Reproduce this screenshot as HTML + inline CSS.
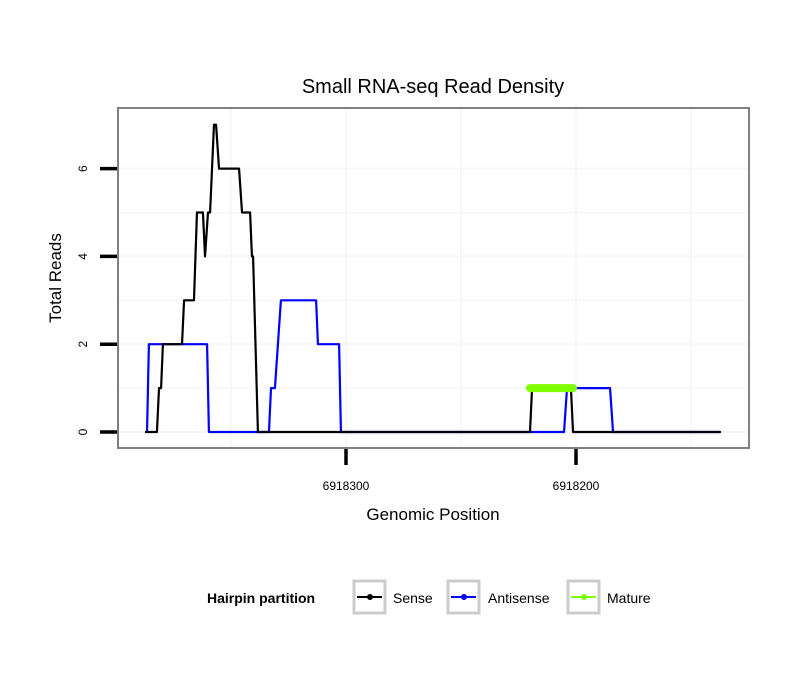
<!DOCTYPE html>
<html><head><meta charset="utf-8"><style>
body{margin:0;background:#fff;}
svg{display:block;font-family:"Liberation Sans",sans-serif;}
</style></head><body>
<svg id="chart" width="810" height="690">
<text x="433" y="93" font-size="20" text-anchor="middle">Small RNA-seq Read Density</text>
<g id="grid"></g>
<g id="series"></g>
<rect x="118" y="108" width="631" height="340" fill="none" stroke="#808080" stroke-width="2"/>
<g id="axes"></g>
<text x="433" y="520" font-size="17" text-anchor="middle">Genomic Position</text>
<text transform="translate(61,278) rotate(-90)" font-size="17" text-anchor="middle">Total Reads</text>
<g>
<text x="207" y="603" font-size="14" font-weight="bold">Hairpin partition</text>
<g>
<rect x="354" y="581" width="31" height="32" fill="#fff" stroke="#cccccc" stroke-width="3"/>
<line x1="357" y1="597" x2="382" y2="597" stroke="#000" stroke-width="2"/><circle cx="370" cy="597" r="3" fill="#000"/>
<text x="393" y="603" font-size="14">Sense</text></g>
<g>
<rect x="448" y="581" width="31" height="32" fill="#fff" stroke="#cccccc" stroke-width="3"/>
<line x1="451" y1="597" x2="476" y2="597" stroke="#0000ff" stroke-width="2"/><circle cx="464" cy="597" r="3" fill="#0000ff"/>
<text x="488" y="603" font-size="14">Antisense</text></g>
<g>
<rect x="568" y="581" width="31" height="32" fill="#fff" stroke="#cccccc" stroke-width="3"/>
<line x1="571" y1="597" x2="596" y2="597" stroke="#7fff00" stroke-width="2"/><circle cx="584" cy="597" r="3" fill="#7fff00"/>
<text x="607" y="603" font-size="14">Mature</text></g>
</g>
</svg>
<script>
const senseX=[6918387,6918382.2,6918381.3,6918380.4,6918379.6,6918371.3,6918370.4,6918366.1,6918364.8,6918362.2,6918361.3,6918360,6918359.1,6918357.4,6918356.5,6918355.2,6918346.5,6918345.2,6918341.7,6918340.9,6918340.4,6918338.3,6918220,6918219.1,6918202.2,6918201.3,6918137.4];
const senseY=[0,0,1,1,2,2,3,3,5,5,4,5,5,7,7,6,6,5,5,4,4,0,0,1,1,0,0];
const antiX=[6918386.5,6918385.7,6918360.4,6918359.6,6918333.5,6918332.6,6918330.9,6918328.3,6918313,6918312.2,6918303,6918302.2,6918205.2,6918203.9,6918185.2,6918183.9,6918137.4];
const antiY=[0,2,2,0,0,1,1,3,3,2,2,0,0,1,1,0,0];
const matureX=[6918220,6918201.3];
const matureY=[1,1];
const yTicks=[0,2,4,6];
const yMinor=[1,3,5];
const xTicks=[6918300,6918200];
const xMinor=[6918350,6918250,6918150];
const NS='http://www.w3.org/2000/svg';
const xs=v=>346+(6918300-v)*2.3;
const ys=v=>432-v*43.9;
function mk(tag,attrs,parent){const e=document.createElementNS(NS,tag);for(const k in attrs)e.setAttribute(k,attrs[k]);parent.appendChild(e);return e;}
const grid=document.getElementById('grid'),axes=document.getElementById('axes'),ser=document.getElementById('series');
mk('rect',{x:118,y:108,width:631,height:340,fill:'#fff'},grid);
yMinor.concat(yTicks).forEach(v=>{const l=mk('line',{x1:118,x2:749,y1:ys(v),y2:ys(v),stroke:'#f7f7f7','stroke-width':yTicks.includes(v)?2:1.5},grid);

});
xMinor.concat(xTicks).forEach(v=>{const x=xs(v);if(x<118||x>749)return;const l=mk('line',{x1:x,x2:x,y1:108,y2:448,stroke:'#f7f7f7','stroke-width':2},grid);

});
yTicks.forEach(v=>{const t=mk('line',{x1:100,x2:117,y1:ys(v),y2:ys(v),stroke:'#000','stroke-width':3.5},axes);


const tx=mk('text',{transform:`translate(87,${ys(v)}) rotate(-90)`,'font-size':12,'text-anchor':'middle'},axes);tx.textContent=v;

});
xTicks.forEach(v=>{const t=mk('line',{x1:xs(v),x2:xs(v),y1:449,y2:465,stroke:'#000','stroke-width':3.5},axes);


const tx=mk('text',{x:xs(v),y:490,'font-size':12,'text-anchor':'middle'},axes);tx.textContent=v;

});
function line(X,Y,color,w,name){const p=mk('polyline',{points:X.map((v,i)=>xs(v)+','+ys(Y[i])).join(' '),fill:'none',stroke:color,'stroke-width':w,'stroke-linejoin':'round','stroke-linecap':'round'},ser);

}
line(antiX,antiY,'#0000ff',2.2,'antisense-line');
line(senseX,senseY,'#000',2.2,'sense-line');
line(matureX,matureY,'#7fff00',8,'mature-line');
</script>
</body></html>
